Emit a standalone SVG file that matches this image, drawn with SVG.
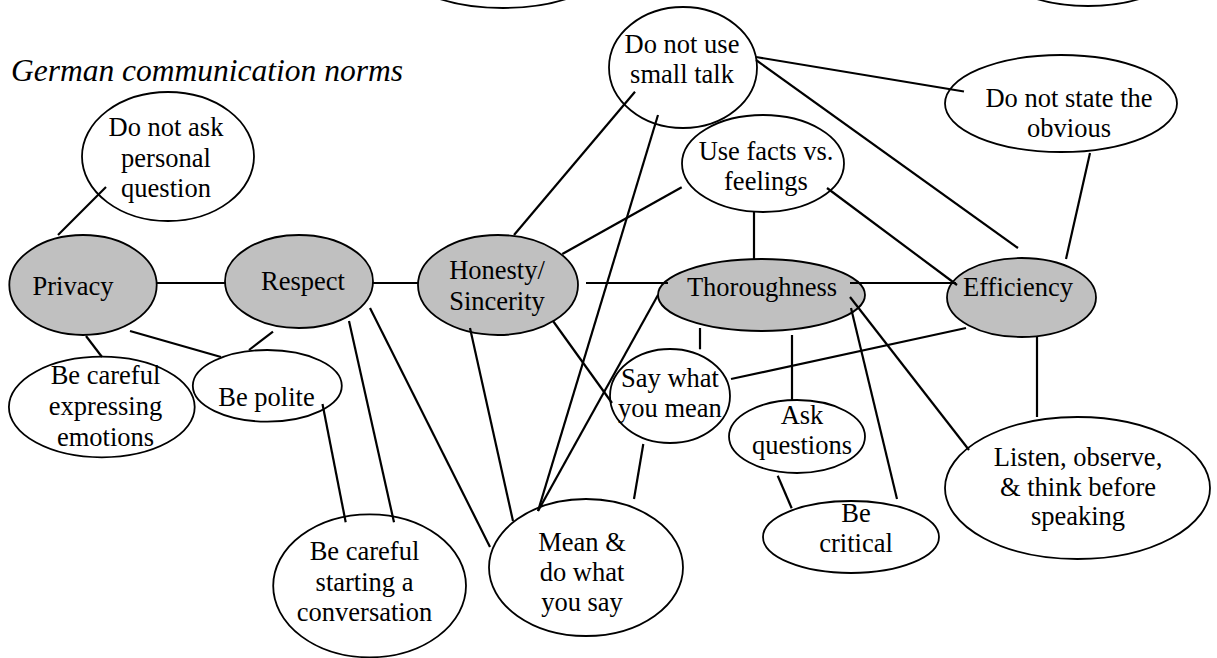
<svg xmlns="http://www.w3.org/2000/svg" width="1217" height="658" viewBox="0 0 1217 658">
<style>
.n{fill:#ffffff;stroke:#000;stroke-width:1.8}
.c{fill:#c0c0c0;stroke:#000;stroke-width:1.8}
.t{font-family:"Liberation Serif","Times New Roman",serif;font-size:26.5px;fill:#000;text-anchor:middle}
.title{font-family:"Liberation Serif","Times New Roman",serif;font-size:31.5px;font-style:italic;fill:#000}
#connectors line{stroke:#000;stroke-width:2.2;stroke-linecap:butt}
</style>
<rect width="1217" height="658" fill="#fff"/>
<text class="title" x="11" y="81">German communication norms</text>
<g id="top-left-partial"><ellipse class="n" cx="503" cy="-42" rx="110" ry="50"/></g>
<g id="top-right-partial"><ellipse class="n" cx="1088" cy="-39" rx="95" ry="45"/></g>
<g id="privacy"><ellipse class="c" cx="83" cy="285" rx="73.7" ry="50"/><text class="t" x="73" y="295">Privacy</text></g>
<g id="respect"><ellipse class="c" cx="299" cy="281.5" rx="74" ry="46.5"/><text class="t" x="303" y="290">Respect</text></g>
<g id="honesty"><ellipse class="c" cx="498" cy="285" rx="80" ry="50"/><text class="t" x="497" y="279">Honesty/</text><text class="t" x="497" y="310">Sincerity</text></g>
<g id="thoroughness"><ellipse class="c" cx="761.5" cy="295" rx="103.5" ry="36"/><text class="t" x="762" y="296">Thoroughness</text></g>
<g id="efficiency"><ellipse class="c" cx="1021.5" cy="297.5" rx="74.5" ry="39.5"/><text class="t" x="1018" y="296">Efficiency</text></g>
<g id="ask-personal"><ellipse class="n" cx="168" cy="156.5" rx="86" ry="64.5"/><text class="t" x="166" y="136">Do not ask</text><text class="t" x="166" y="167">personal</text><text class="t" x="166" y="197">question</text></g>
<g id="small-talk"><ellipse class="n" cx="683" cy="67.5" rx="74" ry="60.5"/><text class="t" x="682" y="53">Do not use</text><text class="t" x="682" y="83">small talk</text></g>
<g id="facts"><ellipse class="n" cx="763" cy="163.5" rx="81" ry="48.5"/><text class="t" x="766" y="160">Use facts vs.</text><text class="t" x="766" y="190">feelings</text></g>
<g id="obvious"><ellipse class="n" cx="1061" cy="103.5" rx="116" ry="48.5"/><text class="t" x="1069" y="107">Do not state the</text><text class="t" x="1069" y="137">obvious</text></g>
<g id="emotions"><ellipse class="n" cx="101.8" cy="407" rx="92.9" ry="50.3"/><text class="t" x="105.5" y="384">Be careful</text><text class="t" x="105.5" y="415">expressing</text><text class="t" x="105.5" y="446">emotions</text></g>
<g id="polite"><ellipse class="n" cx="267.3" cy="385.8" rx="74.5" ry="35.8"/><text class="t" x="266.5" y="406">Be polite</text></g>
<g id="conversation"><ellipse class="n" cx="369.6" cy="585.8" rx="96.4" ry="71.5"/><text class="t" x="364.5" y="560">Be careful</text><text class="t" x="364.5" y="590.5">starting a</text><text class="t" x="364.5" y="621">conversation</text></g>
<g id="mean-do"><ellipse class="n" cx="586" cy="567.5" rx="97" ry="68.5"/><text class="t" x="582" y="551">Mean &amp;</text><text class="t" x="582" y="581">do what</text><text class="t" x="582" y="611">you say</text></g>
<g id="say-what"><ellipse class="n" cx="670" cy="396" rx="60" ry="47"/><text class="t" x="670" y="387">Say what</text><text class="t" x="670" y="417">you mean</text></g>
<g id="ask-questions"><ellipse class="n" cx="797" cy="436.5" rx="68" ry="36.5"/><text class="t" x="802" y="424">Ask</text><text class="t" x="802" y="454">questions</text></g>
<g id="critical"><ellipse class="n" cx="851" cy="537" rx="88" ry="36"/><text class="t" x="856" y="522">Be</text><text class="t" x="856" y="552">critical</text></g>
<g id="listen"><ellipse class="n" cx="1077.5" cy="488" rx="132.5" ry="71"/><text class="t" x="1078" y="465.5">Listen, observe,</text><text class="t" x="1078" y="495.5">&amp; think before</text><text class="t" x="1078" y="525">speaking</text></g>
<g id="connectors">
<line x1="106" y1="187" x2="58" y2="235"/>
<line x1="156.7" y1="283" x2="226" y2="283"/>
<line x1="372" y1="283" x2="418" y2="283"/>
<line x1="130" y1="331" x2="221" y2="357"/>
<line x1="86" y1="336" x2="102" y2="357"/>
<line x1="273" y1="331.7" x2="249" y2="350"/>
<line x1="322.5" y1="404" x2="345.7" y2="522.3"/>
<line x1="349" y1="321" x2="394" y2="522.3"/>
<line x1="370" y1="308" x2="490" y2="547"/>
<line x1="470" y1="328" x2="513" y2="521"/>
<line x1="658" y1="115" x2="538" y2="511"/>
<line x1="658" y1="295" x2="538" y2="511"/>
<line x1="553" y1="321" x2="612" y2="403"/>
<line x1="643.3" y1="444" x2="634" y2="499"/>
<line x1="700" y1="328" x2="700" y2="349.3"/>
<line x1="792" y1="335" x2="792" y2="400"/>
<line x1="777.7" y1="475.7" x2="791.7" y2="508.3"/>
<line x1="851" y1="308" x2="897" y2="499"/>
<line x1="850" y1="297" x2="969" y2="450"/>
<line x1="731" y1="379" x2="966" y2="328"/>
<line x1="1037" y1="337" x2="1037" y2="417"/>
<line x1="850" y1="283" x2="956" y2="283"/>
<line x1="586" y1="283" x2="668" y2="283"/>
<line x1="754" y1="212" x2="754" y2="259"/>
<line x1="681.7" y1="187.3" x2="562.3" y2="254"/>
<line x1="827" y1="188" x2="957" y2="285"/>
<line x1="635" y1="91.7" x2="514" y2="235"/>
<line x1="756" y1="57" x2="964" y2="91.5"/>
<line x1="756" y1="60" x2="1018" y2="248"/>
<line x1="1090" y1="153" x2="1066" y2="259"/>
</g>
</svg>
